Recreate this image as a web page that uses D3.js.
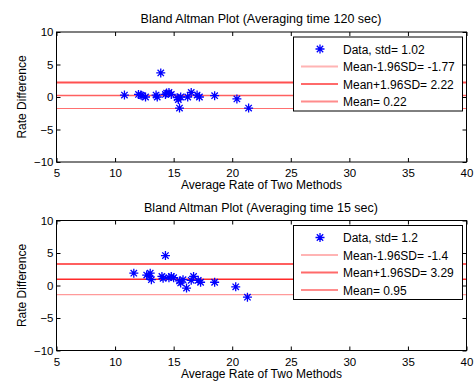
<!DOCTYPE html>
<html lang="en">
<head>
  <meta charset="UTF-8">
  <title>Bland Altman plots</title>
  <style>
    html, body {
      margin: 0;
      padding: 0;
      background-color: #fff;
    }

    svg text {
      font-family: "Liberation Sans", Arial, sans-serif;
      fill: #000;
    }

    .frame {
      fill: none;
      stroke: #000;
      stroke-width: 1;
    }

    .legend-box {
      fill: #fff;
      stroke: #000;
      stroke-width: 1;
    }
  </style>
</head>
<body>
  <script src="https://d3js.org/d3.v7.min.js"></script>
  <script>
    const width = 474,
          height = 381

    // x ticks / y ticks shared by both panels
    const xTicks = [5, 10, 15, 20, 25, 30, 35, 40]
    const yTicks = [-10, -5, 0, 5, 10]

    // 120 sec panel
    const avg120 = [10.8, 12.0, 12.2, 12.3, 12.6, 13.5, 13.6, 13.9, 14.3, 14.4, 14.6, 14.8,
                    15.3, 15.4, 15.5, 15.6, 16.2, 16.5, 17.0, 17.2, 18.5, 20.4, 21.4]
    const diff120 = [0.3, 0.4, 0.3, 0.2, 0.0, 0.3, 0.0, 3.7, 0.4, 0.6, 0.7, 0.4,
                     -0.1, -0.4, -1.7, 0.0, 0.0, 0.7, 0.3, 0.0, 0.2, -0.3, -1.7]
    const stats120 = {std: '1.02', lower: -1.77, upper: 2.22, mean: 0.22}

    // 15 sec panel
    const avg15 = [11.6, 12.7, 12.9, 13.0, 13.1, 14.0, 14.1, 14.3, 14.6, 14.8, 15.0,
                   15.5, 15.6, 15.8, 16.1, 16.5, 16.7, 17.1, 17.3, 18.5, 20.3, 21.3]
    const diff15 = [1.9, 1.6, 1.4, 1.9, 0.9, 1.4, 1.1, 4.6, 1.2, 1.4, 1.2,
                    0.7, 0.4, 0.9, -0.4, 0.8, 1.4, 0.8, 0.5, 0.5, -0.2, -1.8]
    const stats15 = {std: '1.2', lower: -1.4, upper: 3.29, mean: 0.95}

    const panels = [
      {title: 'Bland Altman Plot (Averaging time 120 sec)', top: 32, xs: avg120, ys: diff120, s: stats120,
       lineStyle: {lower: ['#ff7070', 1.2], upper: ['#ff5050', 2], mean: ['#ff6060', 1.5]}},
      {title: 'Bland Altman Plot (Averaging time 15 sec)', top: 220.5, xs: avg15, ys: diff15, s: stats15,
       lineStyle: {lower: ['#ff9a9a', 1.2], upper: ['#ff2a2a', 1.5], mean: ['#ff2a2a', 1.5]}}
    ]

    const left = 56.5, right = 466.5, plotH = 130

    const svg = d3.select('body')
      .append('svg')
      .attr('width', width)
      .attr('height', height)

    const x = d3.scaleLinear().domain([5, 40]).range([left, right])

    // MATLAB-style asterisk marker
    const star = 'M-4.5,0H4.5M0,-4.5V4.5M-3.2,-3.2L3.2,3.2M-3.2,3.2L3.2,-3.2'

    const drawPanel = p => {
      const y = d3.scaleLinear().domain([-10, 10]).range([p.top + plotH, p.top])
      const g = svg.append('g')

      // reference lines
      const lines = [['lower', p.s.lower], ['upper', p.s.upper], ['mean', p.s.mean]]
      lines.forEach(([k, v]) => {
        g.append('line')
          .attr('x1', left).attr('x2', right)
          .attr('y1', y(v)).attr('y2', y(v))
          .attr('stroke', p.lineStyle[k][0])
          .attr('stroke-width', p.lineStyle[k][1])
      })

      // data points
      g.append('g')
        .selectAll('path')
        .data(d3.zip(p.xs, p.ys))
        .join('path')
          .attr('transform', d => `translate(${x(d[0])},${y(d[1])})`)
          .attr('d', star)
          .attr('stroke', '#0000ff')
          .attr('stroke-width', 1.3)
          .attr('fill', 'none')

      // axes with inward ticks on all sides
      g.append('g')
        .attr('transform', `translate(0,${p.top + plotH})`)
        .call(d3.axisBottom(x).tickValues(xTicks).tickSize(-4).tickPadding(7).tickFormat(d3.format('d')))
        .call(a => a.select('.domain').remove())
        .call(a => a.selectAll('text').attr('font-size', 11.5).style('font-family', '"Liberation Sans", Arial, sans-serif'))
      g.append('g')
        .attr('transform', `translate(0,${p.top})`)
        .call(d3.axisTop(x).tickValues(xTicks).tickSize(-4).tickFormat(''))
        .call(a => a.select('.domain').remove())
      g.append('g')
        .attr('transform', `translate(${left},0)`)
        .call(d3.axisLeft(y).tickValues(yTicks).tickSize(-4).tickPadding(3).tickFormat(d3.format('d')))
        .call(a => a.select('.domain').remove())
        .call(a => a.selectAll('text').attr('font-size', 11.5).style('font-family', '"Liberation Sans", Arial, sans-serif'))
      g.append('g')
        .attr('transform', `translate(${right},0)`)
        .call(d3.axisRight(y).tickValues(yTicks).tickSize(-4).tickFormat(''))
        .call(a => a.select('.domain').remove())

      g.append('rect')
        .attr('class', 'frame')
        .attr('x', left).attr('y', p.top)
        .attr('width', right - left).attr('height', plotH)

      // labels
      g.append('text')
        .attr('x', (left + right) / 2 - 0.5).attr('y', p.top - 9)
        .attr('text-anchor', 'middle').attr('font-size', 12.5)
        .text(p.title)
      g.append('text')
        .attr('x', (left + right) / 2).attr('y', p.top + plotH + 27)
        .attr('text-anchor', 'middle').attr('font-size', 12)
        .text('Average Rate of Two Methods')
      g.append('text')
        .attr('transform', `translate(26,${p.top + plotH / 2}) rotate(-90)`)
        .attr('text-anchor', 'middle').attr('font-size', 12)
        .text('Rate Difference')

      // legend
      const lx = 293.5, ly = p.top + 5, lw = 169, lh = 74
      const lg = g.append('g')
      lg.append('rect').attr('class', 'legend-box')
        .attr('x', lx).attr('y', ly).attr('width', lw).attr('height', lh)
      const entries = [
        {label: `Data, std= ${p.s.std}`, marker: true},
        {label: `Mean-1.96SD= ${p.s.lower}`, color: '#ffb4b4'},
        {label: `Mean+1.96SD= ${p.s.upper}`, color: '#ff6a6a'},
        {label: `Mean= ${p.s.mean}`, color: '#ff8c8c'}
      ]
      entries.forEach((e, i) => {
        const ry = ly + 12 + i * 17.5
        if (e.marker) {
          lg.append('path')
            .attr('transform', `translate(320,${ry})`)
            .attr('d', star)
            .attr('stroke', '#0000ff').attr('stroke-width', 1.3).attr('fill', 'none')
        } else {
          lg.append('line')
            .attr('x1', 301).attr('x2', 338).attr('y1', ry).attr('y2', ry)
            .attr('stroke', e.color).attr('stroke-width', 2)
        }
        lg.append('text')
          .attr('x', 343).attr('y', ry + 4.5)
          .attr('font-size', 12)
          .text(e.label)
      })
    }

    panels.forEach(drawPanel)
  </script>
</body>
</html>
